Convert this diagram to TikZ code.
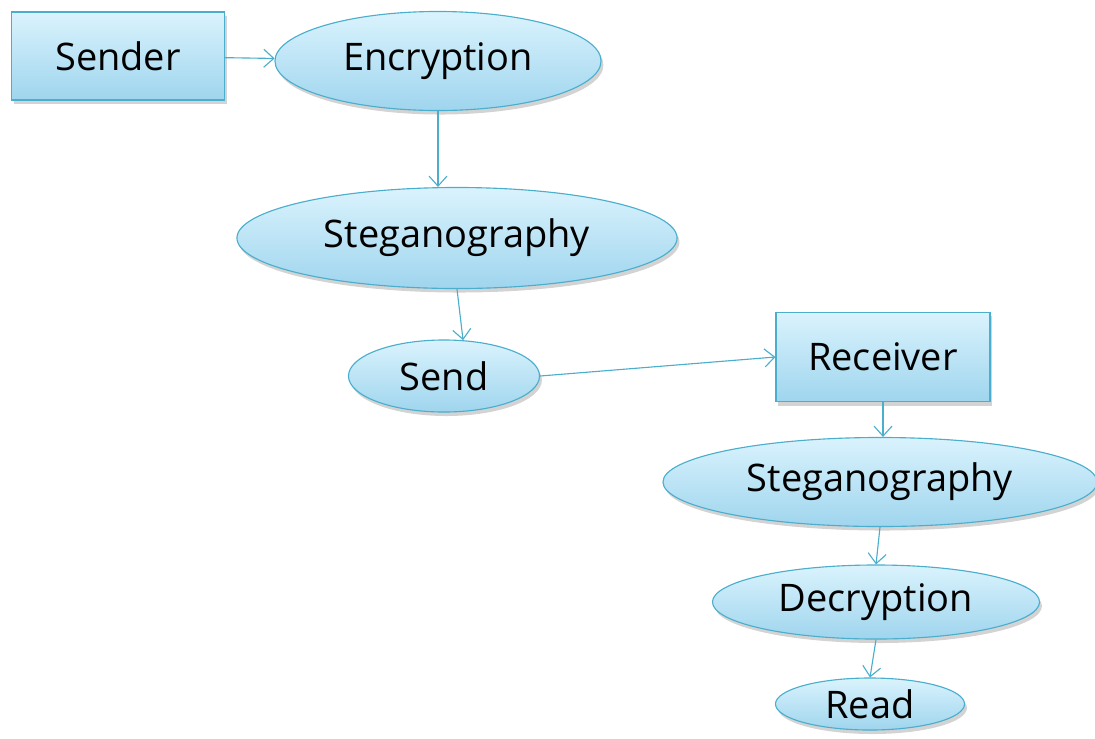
\documentclass[tikz,border=0pt]{standalone}
\usepackage{fontspec}
\setmainfont{Open Sans}
\usetikzlibrary{shapes.geometric,arrows.meta,shadows}

\definecolor{edgeblue}{HTML}{4AAECC}
\definecolor{topblue}{HTML}{DAF3FD}
\definecolor{botblue}{HTML}{9FD5EE}

\tikzset{
  box/.style={draw=edgeblue, line width=0.8pt, top color=topblue, bottom color=botblue,
    drop shadow={opacity=0.35, shadow xshift=0.6mm, shadow yshift=-1mm},
    font=\fontsize{27}{30}\selectfont, inner sep=0pt},
  oval/.style={box, ellipse},
  link/.style={draw=edgeblue, line width=0.8pt, -{Straight Barb[length=2.5mm,width=4.5mm]}}
}

\begin{document}
\begin{tikzpicture}[x=0.025cm,y=-0.025cm]
	\useasboundingbox (0,0) rectangle (1095,738);
	% sender side
	\node[box, minimum width=5.325cm, minimum height=2.2cm] (v1) at (118,56) {Sender};
	\node[oval, minimum width=8.15cm, minimum height=2.475cm] (v2) at (438,61) {Encryption};
	\node[oval, minimum width=11cm, minimum height=2.525cm] (v3) at (457,238) {Steganography};
	\node[oval, minimum width=4.775cm, minimum height=1.8cm] (v4) at (444,376) {Send};
	\draw[link] (v1) -- (v2);
	\draw[link] (v2.south) -- (v2.south |- v3.north);
	\draw[link] (v3.south) -- (v4.62);

	% receiver side
	\node[box, minimum width=5.35cm, minimum height=2.225cm] (v5) at (883,357) {Receiver};
	\node[oval, minimum width=10.85cm, minimum height=2.225cm] (v6) at (880,482) {Steganography};
	\node[oval, minimum width=8.175cm, minimum height=1.85cm] (v7) at (876,602) {Decryption};
	\node[oval, minimum width=4.725cm, minimum height=1.3cm] (v8) at (870,704) {Read};
	\draw[link] (v4.east) -- (v5.west);
	\draw[link] (v5.south) -- (v5.south |- v6.north);
	\draw[link] (v6.south) -- (v7.north);
	\draw[link] (v7.south) -- (v8.north);
\end{tikzpicture}
\end{document}
